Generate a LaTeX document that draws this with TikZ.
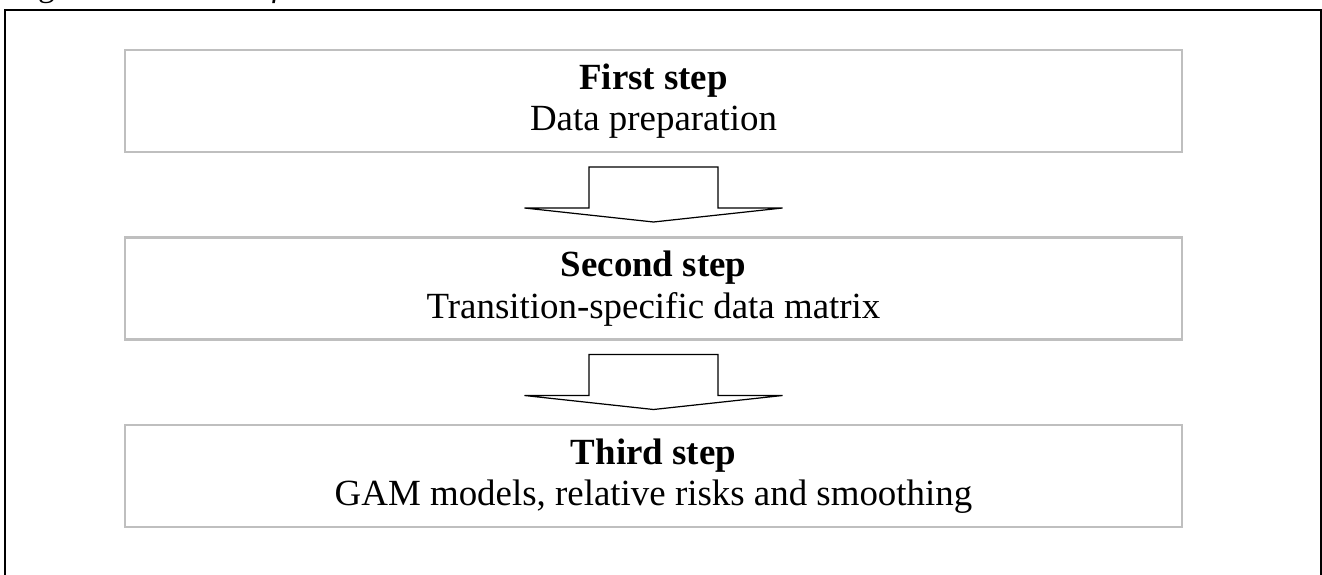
\documentclass[tikz,border=0pt]{standalone}
\usepackage{fontspec}
\setmainfont{Liberation Serif}
\usetikzlibrary{positioning,calc}

\begin{document}
\begin{tikzpicture}[
  node distance=1.71cm,
  stepbox/.style={draw=black!25,line width=1.15pt,outer sep=0pt,align=center,minimum width=21.14cm,minimum height=2.04cm,font=\fontsize{21}{23.5}\selectfont},
  flowarrow/.style={draw=black,fill=white,line width=0.7pt,line join=miter}
]
  \clip (0,0) rectangle (26.44,11.48);
  % outer frame, open at the bottom
  \draw[line width=0.85pt] (0.1,-1) rectangle (26.42,11.28);
  \node[anchor=base west,inner sep=0pt,font=\fontsize{19}{21}\selectfont] (caption) at (0.2,11.54) {Fig. 1 \textit{Flow chart of MRI-ZES}};
  \node[stepbox] (first) at (13.07,9.46) {\textbf{First step}\\Data preparation};
  \node[stepbox, below=of first] (second) {\textbf{Second step}\\Transition-specific data matrix};
  \node[stepbox, below=of second] (third) {\textbf{Third step}\\GAM models, relative risks and smoothing};
  % block arrows between the steps
  \foreach \a in {first,second}{
    \draw[flowarrow] ($(\a.south)+(-1.29,-0.3)$) -- ($(\a.south)+(1.29,-0.3)$) -- ($(\a.south)+(1.29,-1.12)$)
      -- ($(\a.south)+(2.58,-1.12)$) -- ($(\a.south)+(0,-1.4)$) -- ($(\a.south)+(-2.58,-1.12)$)
      -- ($(\a.south)+(-1.29,-1.12)$) -- cycle;
  }
\end{tikzpicture}
\end{document}
